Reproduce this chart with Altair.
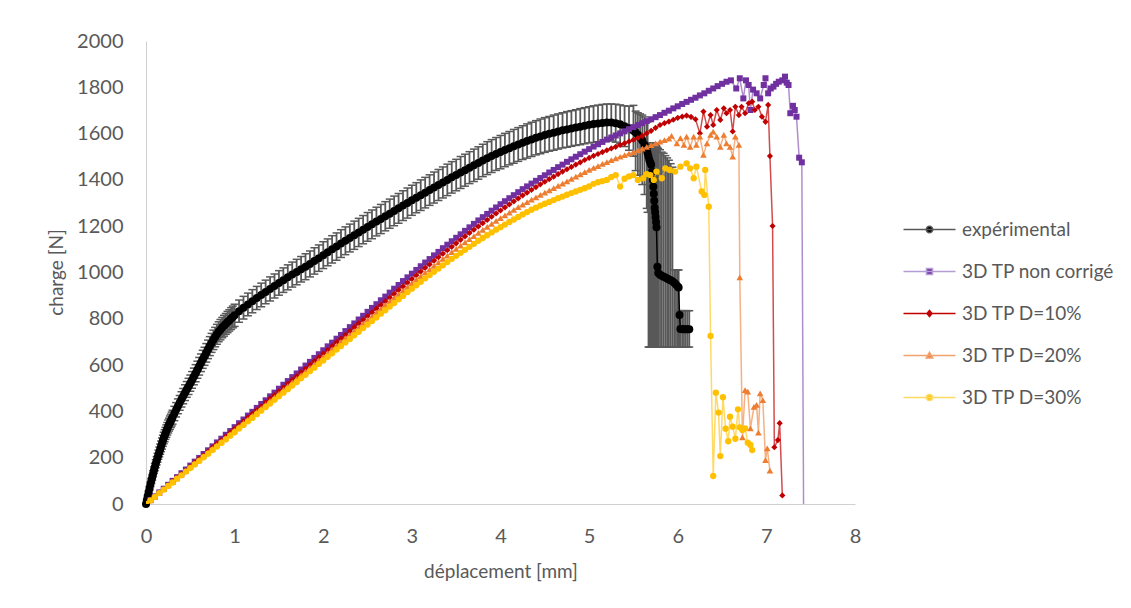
import altair as alt
import pandas as pd

# ---------------- series / legend ----------------
series_names = ["expérimental", "3D TP non corrigé", "3D TP D=10%", "3D TP D=20%", "3D TP D=30%"]
marker_colors = ["#000000", "#7030A0", "#C00000", "#ED7D31", "#FFC000"]
line_colors = ["#595959", "#B49CD4", "#C00000", "#F2A26E", "#FFD966"]
legend_paths = [
    "M-5.2,0L5.2,0M-0.65,0A0.65,0.65,0,1,1,0.65,0A0.65,0.65,0,1,1,-0.65,0Z",
    "M-5.2,0L5.2,0M-0.6,-0.6L0.6,-0.6L0.6,0.6L-0.6,0.6Z",
    "M-5.2,0L5.2,0M0,-0.6L0.5,0L0,0.6L-0.5,0Z",
    "M-5.2,0L5.2,0M0,-0.65L0.65,0.5L-0.65,0.5Z",
    "M-5.2,0L5.2,0M-0.6,0A0.6,0.6,0,1,1,0.6,0A0.6,0.6,0,1,1,-0.6,0Z",
]

x_ticks = [0, 1, 2, 3, 4, 5, 6, 7, 8]
y_ticks = [0, 200, 400, 600, 800, 1000, 1200, 1400, 1600, 1800, 2000]

# displacement sampling grid (mm), step 0.05
grid = [
    0.00, 0.05, 0.10, 0.15, 0.20, 0.25, 0.30, 0.35, 0.40, 0.45,
    0.50, 0.55, 0.60, 0.65, 0.70, 0.75, 0.80, 0.85, 0.90, 0.95,
    1.00, 1.05, 1.10, 1.15, 1.20, 1.25, 1.30, 1.35, 1.40, 1.45,
    1.50, 1.55, 1.60, 1.65, 1.70, 1.75, 1.80, 1.85, 1.90, 1.95,
    2.00, 2.05, 2.10, 2.15, 2.20, 2.25, 2.30, 2.35, 2.40, 2.45,
    2.50, 2.55, 2.60, 2.65, 2.70, 2.75, 2.80, 2.85, 2.90, 2.95,
    3.00, 3.05, 3.10, 3.15, 3.20, 3.25, 3.30, 3.35, 3.40, 3.45,
    3.50, 3.55, 3.60, 3.65, 3.70, 3.75, 3.80, 3.85, 3.90, 3.95,
    4.00, 4.05, 4.10, 4.15, 4.20, 4.25, 4.30, 4.35, 4.40, 4.45,
    4.50, 4.55, 4.60, 4.65, 4.70, 4.75, 4.80, 4.85, 4.90, 4.95,
    5.00, 5.05, 5.10, 5.15, 5.20, 5.25, 5.30, 5.35, 5.40, 5.45,
    5.50, 5.55, 5.60, 5.65, 5.70, 5.75, 5.80, 5.85, 5.90, 5.95,
    6.00, 6.05, 6.10, 6.15, 6.20, 6.25, 6.30, 6.35, 6.40, 6.45,
    6.50, 6.55, 6.60,
]

# ---------------- experimental ----------------
exp_x_start = [
    0.00, 0.01, 0.02, 0.03, 0.04, 0.05, 0.06, 0.07, 0.08, 0.09,
    0.10, 0.11, 0.12, 0.13, 0.14, 0.15, 0.16, 0.17, 0.18, 0.19,
    0.20, 0.21, 0.22, 0.23, 0.24, 0.25, 0.26, 0.27, 0.28, 0.29,
    0.30,
    0.32, 0.34, 0.36, 0.38, 0.40, 0.42, 0.44, 0.46, 0.48, 0.50,
    0.52, 0.54, 0.56, 0.58, 0.60, 0.62, 0.64, 0.66, 0.68, 0.70,
    0.72, 0.74, 0.76, 0.78, 0.80, 0.82, 0.84, 0.86, 0.88, 0.90,
    0.92, 0.94, 0.96, 0.98, 1.00,
]
exp_y_start = [
    0, 17, 34, 51, 68, 85, 100, 115, 131, 146,
    160, 174, 187, 200, 213, 225, 237, 249, 261, 273,
    285, 295, 305, 315, 325, 335, 343, 351, 359, 367,
    375,
    391, 407, 422, 437, 452, 466, 481, 495, 508, 522,
    536, 551, 565, 580, 595, 610, 625, 638, 653, 668,
    682, 696, 709, 721, 733, 744, 753, 762, 770, 778,
    786, 793, 801, 808, 815,
]
exp_err_start = [
    0, 2, 4, 6, 8, 10, 11, 12, 13, 14,
    16, 17, 18, 19, 20, 21, 22, 23, 24, 24,
    25, 26, 26, 27, 27, 28, 28, 29, 29, 30,
    30,
    31, 31, 32, 32, 33, 33, 34, 34, 35, 35,
    36, 36, 37, 37, 38, 38, 39, 39, 40, 40,
    41, 41, 42, 42, 43, 43, 44, 44, 45, 45,
    46, 46, 47, 47, 48,
]
# 1.05 .. 5.50 mm (grid)
exp_y_mid = [
    833, 848, 862, 876, 890, 903, 916, 929, 942,
    955, 967, 979, 991, 1002, 1014, 1025, 1037, 1050, 1062,
    1075, 1087, 1100, 1112, 1125, 1137, 1149, 1161, 1173, 1185,
    1197, 1208, 1220, 1231, 1243, 1254, 1266, 1277, 1289, 1300,
    1312, 1323, 1334, 1345, 1356, 1367, 1378, 1389, 1400, 1411,
    1421, 1432, 1442, 1453, 1463, 1473, 1484, 1494, 1503, 1512,
    1520, 1529, 1537, 1545, 1553, 1561, 1568, 1575, 1582, 1588,
    1594, 1599, 1604, 1609, 1614, 1618, 1622, 1626, 1630, 1634,
    1638, 1641, 1644, 1646, 1648, 1648, 1645, 1640, 1632, 1623,
    1612,
]
exp_err_mid = [
    48, 49, 49, 50, 50, 51, 51, 52, 52,
    53, 53, 54, 54, 55, 55, 56, 56, 57, 57,
    58, 58, 59, 59, 60, 60, 60, 61, 61, 61,
    62, 62, 62, 63, 63, 63, 64, 64, 64, 65,
    65, 65, 66, 66, 66, 67, 67, 67, 68, 68,
    68, 69, 69, 69, 70, 70, 70, 71, 71, 71,
    72, 72, 72, 73, 73, 73, 74, 74, 74, 75,
    75, 75, 76, 76, 76, 77, 77, 77, 78, 78,
    78, 79, 79, 80, 80, 80, 82, 84, 88, 95,
    110,
]
# failure zone (asymmetric error bars)
exp_x_fail = [
    5.525, 5.55, 5.575, 5.60, 5.625, 5.65, 5.66, 5.67, 5.68, 5.69,
    5.70, 5.71, 5.72, 5.725, 5.73, 5.735, 5.74, 5.745, 5.75, 5.755,
    5.76, 5.77, 5.78, 5.80, 5.82, 5.84, 5.86, 5.88, 5.90, 5.92,
    5.94, 5.96, 5.98, 6.00, 6.01, 6.02, 6.03, 6.05, 6.07, 6.09,
    6.11, 6.13,
]
exp_y_fail = [
    1605, 1595, 1583, 1570, 1552, 1530, 1515, 1500, 1485, 1475,
    1465, 1435, 1400, 1370, 1340, 1310, 1280, 1260, 1240, 1218,
    1195, 1025, 998, 990, 986, 982, 978, 974, 970, 966,
    962, 956, 948, 940, 935, 816, 756, 755, 755, 755,
    755, 755,
]
exp_err_fail_minus = [
    165, 175, 182, 190, 215, 253, 255, 822, 807, 797,
    787, 757, 722, 692, 662, 632, 602, 582, 562, 540,
    517, 347, 320, 312, 308, 304, 300, 296, 292, 288,
    284, 278, 270, 262, 257, 138, 78, 77, 77, 77,
    77, 77,
]
exp_err_fail_plus = [
    92, 95, 102, 110, 120, 130, 135, 60, 75, 85,
    95, 125, 160, 188, 215, 245, 275, 292, 310, 330,
    350, 515, 537, 540, 534, 533, 527, 521, 515, 504,
    493, 55, 63, 71, 76, 19, 79, 80, 80, 80,
    80, 80,
]

# ---------------- 3D TP non corrigé ----------------
p_y_grid = [
    0, 17, 33, 50, 66, 83, 100, 116, 133, 149,
    166, 183, 199, 216, 232, 249, 266, 282, 299, 315,
    332, 349, 365, 382, 398, 415, 432, 448, 465, 481,
    498, 515, 531, 548, 564, 581, 598, 614, 631, 647,
    664, 681, 697, 714, 730, 747, 764, 780, 797, 813,
    830, 847, 863, 880, 896, 913, 930, 946, 963, 979,
    995, 1011, 1027, 1043, 1058, 1074, 1089, 1105, 1120, 1135,
    1150, 1165, 1180, 1195, 1210, 1225, 1239, 1253, 1267, 1281,
    1295, 1308, 1321, 1334, 1347, 1360, 1372, 1384, 1396, 1408,
    1420, 1432, 1443, 1455, 1466, 1478, 1489, 1500, 1511, 1522,
    1533, 1544, 1554, 1564, 1574, 1583, 1592, 1601, 1610, 1619,
    1628, 1637, 1645, 1654, 1662, 1671, 1680, 1690, 1699, 1709,
    1718, 1728, 1737, 1746, 1755, 1765, 1774, 1785, 1795, 1805,
    1815, 1824, 1830,
]
p_x_end = [
    6.66, 6.70, 6.74, 6.77, 6.80, 6.82, 6.85, 6.89, 6.93, 6.97,
    6.99, 7.02, 7.05, 7.08, 7.11, 7.14, 7.18, 7.21, 7.23, 7.25,
    7.27, 7.30, 7.32, 7.34, 7.37, 7.40, 7.42,
]
p_y_end = [
    1795, 1839, 1752, 1830, 1810, 1702, 1790, 1774, 1752, 1810,
    1839, 1774, 1795, 1803, 1815, 1824, 1830, 1846, 1820, 1810,
    1688, 1720, 1702, 1673, 1496, 1476, -30,
]

# ---------------- 3D TP D=10% ----------------
r_y_grid = [
    0, 16, 32, 49, 65, 81, 97, 114, 130, 146,
    162, 179, 195, 211, 227, 244, 260, 276, 292, 309,
    325, 341, 357, 374, 390, 406, 422, 439, 455, 471,
    487, 504, 520, 536, 552, 569, 585, 601, 617, 634,
    650, 666, 682, 699, 715, 731, 747, 764, 780, 796,
    812, 828, 844, 860, 876, 892, 908, 924, 940, 956,
    972, 988, 1004, 1020, 1035, 1051, 1066, 1081, 1096, 1111,
    1126, 1141, 1156, 1171, 1185, 1199, 1213, 1227, 1241, 1255,
    1268, 1281, 1294, 1307, 1320, 1333, 1345, 1357, 1369, 1381,
    1392, 1403, 1414, 1425, 1436, 1446, 1456, 1466, 1476, 1486,
    1495, 1504, 1512, 1520, 1528, 1536, 1543, 1551, 1558, 1566,
    1573, 1581, 1590, 1601, 1612, 1625, 1637, 1645, 1652, 1660,
    1668, 1673, 1678, 1672, 1662,
]
r_x_end = [
    6.25, 6.29, 6.33, 6.37, 6.40, 6.44, 6.48, 6.52, 6.55, 6.59,
    6.62, 6.65, 6.69, 6.72, 6.76, 6.80, 6.84, 6.87, 6.91, 6.95,
    6.99, 7.02, 7.04, 7.07, 7.09, 7.13, 7.15, 7.18,
]
r_y_end = [
    1601, 1695, 1630, 1680, 1637, 1702, 1659, 1709, 1688, 1702,
    1609, 1716, 1680, 1716, 1688, 1731, 1738, 1702, 1716, 1673,
    1651, 1724, 1503, 1201, 245, 276, 349, 37,
]

# ---------------- 3D TP D=20% ----------------
o_y_grid = [
    0, 16, 32, 48, 64, 80, 95, 111, 127, 143,
    159, 175, 191, 207, 223, 239, 254, 270, 286, 302,
    318, 334, 350, 366, 382, 398, 413, 429, 445, 461,
    477, 493, 509, 525, 541, 557, 572, 588, 604, 620,
    636, 652, 668, 684, 700, 716, 731, 747, 763, 779,
    795, 811, 827, 843, 859, 875, 890, 906, 922, 938,
    953, 969, 984, 999, 1014, 1029, 1044, 1059, 1073, 1088,
    1102, 1116, 1130, 1144, 1157, 1171, 1184, 1197, 1210, 1223,
    1235, 1247, 1259, 1271, 1282, 1293, 1304, 1315, 1325, 1335,
    1345, 1355, 1364, 1374, 1384, 1394, 1404, 1414, 1424, 1434,
    1443, 1452, 1460, 1469, 1477, 1485, 1493, 1500, 1507, 1514,
    1520, 1528, 1535, 1543, 1550, 1558, 1565, 1572, 1578,
]
o_x_end = [
    5.93, 5.99, 6.03, 6.07, 6.10, 6.14, 6.18, 6.21, 6.25, 6.29,
    6.33, 6.37, 6.40, 6.44, 6.48, 6.52, 6.55, 6.59, 6.62, 6.65,
    6.69, 6.70, 6.73, 6.76, 6.79, 6.82, 6.86, 6.89, 6.91, 6.93,
    6.96, 6.99, 7.01, 7.04,
]
o_y_end = [
    1590, 1558, 1580, 1551, 1587, 1543, 1587, 1551, 1587, 1508,
    1558, 1594, 1609, 1587, 1543, 1594, 1558, 1543, 1501, 1587,
    1551, 979, 288, 492, 485, 327, 420, 428, 308, 478,
    449, 190, 240, 144,
]

# ---------------- 3D TP D=30% ----------------
y_y_grid = [
    0, 16, 31, 47, 62, 78, 93, 109, 124, 140,
    155, 171, 186, 202, 217, 233, 248, 264, 279, 295,
    310, 326, 341, 357, 372, 388, 403, 419, 434, 450,
    465, 481, 496, 512, 527, 543, 558, 574, 589, 605,
    620, 636, 651, 667, 682, 698, 713, 729, 744, 760,
    775, 791, 806, 822, 837, 853, 868, 884, 899, 915,
    930, 945, 960, 975, 989, 1003, 1017, 1031, 1045, 1059,
    1072, 1085, 1098, 1111, 1124, 1137, 1149, 1161, 1173, 1185,
    1196, 1207, 1218, 1229, 1240, 1251, 1261, 1271, 1280, 1289,
    1297, 1305, 1313, 1321, 1328, 1336, 1343, 1350, 1357, 1364,
    1372, 1383, 1390, 1395, 1400, 1412, 1421,
]
y_x_end = [
    5.35, 5.40, 5.45, 5.50, 5.55, 5.61, 5.65, 5.69, 5.73, 5.76,
    5.82, 5.86, 5.91, 5.97, 6.03, 6.10, 6.14, 6.18, 6.21, 6.27,
    6.30, 6.31, 6.35, 6.37, 6.40, 6.43, 6.46, 6.48, 6.51, 6.54,
    6.57, 6.59, 6.62, 6.65, 6.68, 6.70, 6.73, 6.76, 6.79, 6.82,
    6.84,
]
y_y_end = [
    1371, 1405, 1415, 1421, 1400, 1407, 1425, 1421, 1400, 1436,
    1407, 1450, 1443, 1436, 1457, 1471, 1450, 1407, 1457, 1350,
    1335, 1443, 1284, 726, 121, 481, 395, 207, 461, 325,
    271, 377, 334, 282, 409, 331, 320, 327, 265, 255,
    233,
]

# ---------------- build tables ----------------
exp_x = exp_x_start + grid[21:111] + exp_x_fail
exp_y = exp_y_start + exp_y_mid + exp_y_fail
exp_minus = exp_err_start + exp_err_mid + exp_err_fail_minus
exp_plus = exp_err_start + exp_err_mid + exp_err_fail_plus
assert len(exp_x) == len(exp_y) == len(exp_minus) == len(exp_plus)
exp_df = pd.DataFrame({"x": exp_x, "y": exp_y})
exp_df["lo"] = [v - e for v, e in zip(exp_y, exp_minus)]
exp_df["hi"] = [v + e for v, e in zip(exp_y, exp_plus)]

p_x = grid[:len(p_y_grid)] + p_x_end
p_y = p_y_grid + p_y_end
r_x = grid[:len(r_y_grid)] + r_x_end
r_y = r_y_grid + r_y_end
o_x = grid[:len(o_y_grid)] + o_x_end
o_y = o_y_grid + o_y_end
y_x = grid[:len(y_y_grid)] + y_x_end
y_y = y_y_grid + y_y_end
for a, b in [(p_x, p_y), (r_x, r_y), (o_x, o_y), (y_x, y_y)]:
    assert len(a) == len(b)

FONT = "Lato"
TXT = "#595959"

x_scale = alt.Scale(domain=[0, 8], nice=False)
y_scale = alt.Scale(domain=[0, 2000], nice=False)

x_axis = alt.Axis(
    values=x_ticks, format="d", grid=False, ticks=False, tickSize=0,
    domainColor="#d0d0d0", domainWidth=1,
    labelFont=FONT, labelFontSize=20, labelColor=TXT, labelPadding=22,
    labelFlush=False, labelOverlap=False,
    titleFont=FONT, titleFontSize=19, titleColor=TXT, titleFontWeight="normal",
    titleY=67, titleBaseline="middle",
)
y_axis = alt.Axis(
    values=y_ticks, format="d", grid=False, ticks=False, tickSize=0,
    domainColor="#d0d0d0", domainWidth=1,
    labelFont=FONT, labelFontSize=20, labelColor=TXT, labelPadding=23,
    labelOverlap=False,
    titleFont=FONT, titleFontSize=19, titleColor=TXT, titleFontWeight="normal",
    titleX=-90, titleY=231, titleAngle=270, titleAlign="center", titleBaseline="middle",
)
X_TITLE = "déplacement [mm]"
Y_TITLE = "charge [N]"


def X(field="x"):
    return alt.X(f"{field}:Q", scale=x_scale, axis=x_axis, title=X_TITLE)


def Y(field="y"):
    return alt.Y(f"{field}:Q", scale=y_scale, axis=y_axis, title=Y_TITLE)


layers = []

# error bars
ERR_COL = "#595959"
eb = alt.Chart(exp_df)
layers.append(eb.mark_rule(color=ERR_COL, strokeWidth=1.8, opacity=1).encode(x=X(), y=Y("lo"), y2="hi:Q"))
layers.append(eb.mark_tick(orient="horizontal", size=8, thickness=1.5, color=ERR_COL, opacity=1).encode(x=X(), y=Y("lo")))
layers.append(eb.mark_tick(orient="horizontal", size=8, thickness=1.5, color=ERR_COL, opacity=1).encode(x=X(), y=Y("hi")))
# experimental curve
layers.append(eb.mark_line(color="#000000", strokeWidth=1.5).encode(x=X(), y=Y()))
layers.append(eb.mark_point(shape="circle", filled=True, size=64, color="#000000", opacity=1).encode(x=X(), y=Y()))

sims = [
    (p_x, p_y, marker_colors[1], 0.55, "square", 36),
    (r_x, r_y, marker_colors[2], 0.7, "diamond", 38),
    (o_x, o_y, marker_colors[3], 0.6, "triangle-up", 44),
    (y_x, y_y, marker_colors[4], 0.6, "circle", 40),
]
for xs, ys, col, lop, shp, sz in sims:
    base = alt.Chart(pd.DataFrame({"x": xs, "y": ys}))
    layers.append(base.mark_line(color=col, opacity=lop, strokeWidth=1.5, clip=True).encode(x=X(), y=Y()))
    layers.append(base.mark_point(shape=shp, filled=True, size=sz, color=col, opacity=1, clip=True).encode(x=X(), y=Y()))

# legend carrier (points outside the domain, clipped away)
leg_df = pd.DataFrame({"serie": series_names, "x": [-1] * 5, "y": [-100] * 5})
leg = alt.Legend(
    orient="none", legendX=774, legendY=179, title=None,
    labelFont=FONT, labelFontSize=19, labelColor=TXT, labelOffset=23,
    rowPadding=22, symbolStrokeWidth=1.5,
)
layers.append(
    alt.Chart(leg_df).mark_point(filled=True, size=100, opacity=1, strokeWidth=1.5, clip=True).encode(
        x=X(), y=Y(),
        fill=alt.Fill("serie:N", scale=alt.Scale(domain=series_names, range=marker_colors), legend=leg, sort=series_names),
        stroke=alt.Stroke("serie:N", scale=alt.Scale(domain=series_names, range=line_colors), legend=leg, sort=series_names),
        shape=alt.Shape("serie:N", scale=alt.Scale(domain=series_names, range=legend_paths), legend=leg, sort=series_names),
    )
)

chart = alt.layer(*layers).properties(
    width=709, height=463,
    padding={"left": 138, "top": 33, "right": 268, "bottom": 96},
    autosize=alt.AutoSizeParams(type="none"),
    background="white",
).configure_view(stroke=None)

chart.save("out.html", embed_options={"renderer": "svg", "actions": False})
